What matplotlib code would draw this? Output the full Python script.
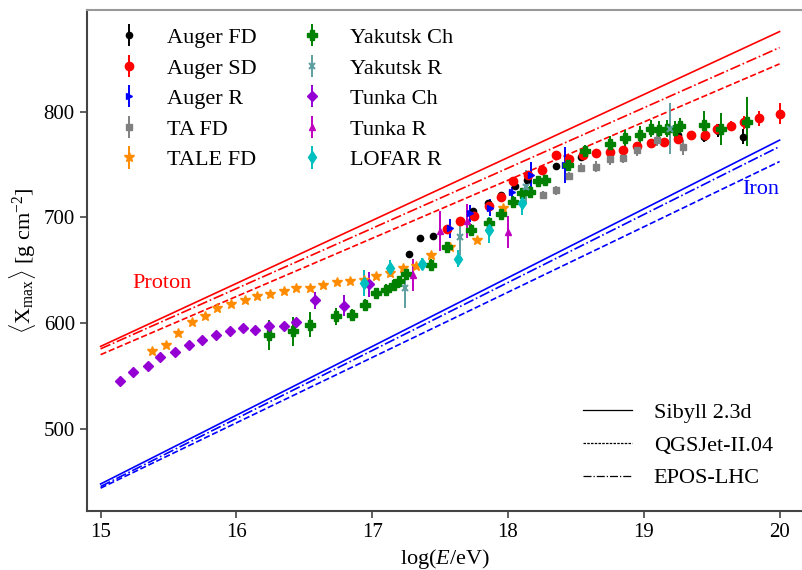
import matplotlib.pyplot as plt
from matplotlib.lines import Line2D

plt.rcParams['font.family'] = ['Liberation Serif', 'DejaVu Serif']
plt.rcParams['mathtext.fontset'] = 'custom'
plt.rcParams['mathtext.rm'] = 'Liberation Serif'
plt.rcParams['mathtext.it'] = 'Liberation Serif:italic'

# model predictions, endpoints at lg E = 15 and 20
model_lgE = [15.0, 20.0]
proton_sibyll = [578.3, 875.5]
proton_epos = [576.0, 860.4]
proton_qgsjet = [570.5, 845.0]
iron_sibyll = [448.4, 773.0]
iron_epos = [446.0, 767.0]
iron_qgsjet = [444.5, 752.8]

# measurements
auger_fd_x = [17.27, 17.35, 17.45, 17.74, 17.85, 17.95, 18.05, 18.14, 18.35, 18.54,
              19.25, 19.44, 19.55, 19.73]
auger_fd_y = [665.8, 680.6, 682.7, 705.7, 713.6, 721.4, 729.9, 735.6, 748.8, 757.0,
              778.0, 776.4, 782.0, 776.4]
auger_fd_e = [2, 2, 2, 2, 2, 2, 2, 2, 2, 3, 4, 5, 6, 7]

auger_sd_x = [17.55, 17.65, 17.75, 17.86, 17.95, 18.04, 18.15, 18.25, 18.35, 18.45,
              18.55, 18.65, 18.75, 18.85, 18.95, 19.05, 19.15, 19.25, 19.35, 19.45,
              19.54, 19.64, 19.74, 19.85, 20.0]
auger_sd_y = [689.0, 696.5, 701.6, 710.4, 719.8, 734.0, 740.0, 745.0, 759.0, 755.0,
              759.0, 760.7, 762.0, 764.0, 767.6, 770.0, 771.7, 774.0, 778.0, 778.0,
              783.4, 786.5, 790.0, 793.8, 797.8]
auger_sd_e = [3, 3, 3, 3, 3, 3, 3, 3, 3, 3, 3, 3, 3, 3, 3, 3, 3, 3, 4, 4,
              5, 5, 6, 7, 10]

auger_r_x = [17.57, 17.72, 17.87, 18.03, 18.17, 18.42]
auger_r_y = [690.0, 704.0, 709.0, 724.0, 740.0, 750.0]
auger_r_e = [9, 8, 8, 5, 12, 17]

ta_fd_x = [18.26, 18.35, 18.45, 18.54, 18.65, 18.75, 18.85, 18.95, 19.1, 19.29]
ta_fd_y = [721.0, 725.5, 739.3, 747.0, 748.0, 755.0, 756.0, 764.0, 773.3, 766.4]
ta_fd_e = [4, 4, 4, 4, 5, 5, 5, 6, 6, 7]

tale_fd_x = [15.38, 15.48, 15.57, 15.67, 15.77, 15.86, 15.96, 16.06, 16.15, 16.25,
             16.35, 16.44, 16.54, 16.64, 16.74, 16.84, 16.94, 17.03, 17.13, 17.23,
             17.32, 17.43, 17.57, 17.77, 17.96]
tale_fd_y = [573.6, 580.0, 591.0, 601.0, 607.0, 614.5, 618.6, 622.0, 625.5, 627.7,
             631.0, 633.4, 633.4, 636.5, 638.7, 640.0, 641.0, 645.0, 648.0, 652.0,
             654.0, 664.8, 672.0, 679.0, 709.0]
tale_fd_e = [1] * 25

yak_ch_x = [16.24, 16.42, 16.54, 16.73, 16.85, 16.95, 17.03, 17.1, 17.16, 17.2,
            17.25, 17.43, 17.55, 17.73, 17.86, 17.95, 18.04, 18.1, 18.16, 18.22,
            18.27, 18.44, 18.57, 18.75, 18.86, 18.97, 19.05, 19.11, 19.17, 19.23,
            19.27, 19.44, 19.57, 19.76]
yak_ch_y = [589.0, 592.5, 598.8, 606.6, 608.0, 617.6, 628.7, 631.8, 636.5, 639.6,
            647.0, 655.4, 672.0, 688.4, 695.0, 703.5, 715.0, 723.0, 724.5, 734.0,
            735.0, 749.5, 762.3, 769.5, 775.0, 778.0, 784.0, 782.7, 784.0, 782.7,
            786.0, 787.5, 783.4, 790.6]
yak_ch_e = [14, 14, 12, 8, 6, 5, 5, 5, 5, 5,
            5, 5, 5, 5, 5, 5, 5, 5, 5, 5,
            5, 6, 6, 7, 8, 8, 8, 8, 8, 8,
            8, 13, 15, 23]

yak_r_x = [17.24, 17.65, 18.13, 19.19]
yak_r_y = [633.0, 681.5, 729.0, 784.0]
yak_r_e = [18, 17, 16, 24]

tunka_ch_x = [15.14, 15.24, 15.35, 15.44, 15.55, 15.65, 15.75, 15.85, 15.95, 16.05,
              16.14, 16.24, 16.35, 16.44, 16.58, 16.79, 16.98]
tunka_ch_y = [546.0, 553.8, 560.0, 568.0, 572.7, 580.0, 584.6, 589.0, 592.5, 596.0,
              594.0, 598.0, 598.0, 601.0, 622.0, 616.7, 637.0]
tunka_ch_e = [1, 1, 1, 1, 1, 1, 1, 1, 1, 1, 1, 1, 1, 3, 8, 10, 12]

tunka_r_x = [17.3, 17.5, 17.7, 18.0]
tunka_r_y = [646.0, 687.0, 697.0, 686.0]
tunka_r_e = [15, 19, 16, 15]

lofar_x = [16.94, 17.13, 17.37, 17.63, 17.86, 18.1]
lofar_y = [638.0, 652.0, 656.0, 661.0, 688.0, 714.0]
lofar_e = [12, 8, 6, 8, 12, 12]

fig = plt.figure(figsize=(8.02, 5.70), dpi=100)
ax = fig.add_axes([0.108, 0.1035, 0.894, 0.879])

# model lines
for y, ls in [(proton_sibyll, '-'), (proton_epos, '-.'), (proton_qgsjet, '--')]:
    ax.plot(model_lgE, y, color='red', ls=ls, lw=1.2)
for y, ls in [(iron_sibyll, '-'), (iron_epos, '-.'), (iron_qgsjet, '--')]:
    ax.plot(model_lgE, y, color='blue', ls=ls, lw=1.2)

datasets = [
    ('Auger FD', auger_fd_x, auger_fd_y, auger_fd_e, 'black', 'o', 4.5),
    ('Auger SD', auger_sd_x, auger_sd_y, auger_sd_e, 'red', 'o', 6),
    ('Auger R', auger_r_x, auger_r_y, auger_r_e, 'blue', '>', 5),
    ('TA FD', ta_fd_x, ta_fd_y, ta_fd_e, 'gray', 's', 5),
    ('TALE FD', tale_fd_x, tale_fd_y, tale_fd_e, 'darkorange', '*', 7),
    ('Yakutsk Ch', yak_ch_x, yak_ch_y, yak_ch_e, 'green', 'P', 6.5),
    ('Yakutsk R', yak_r_x, yak_r_y, yak_r_e, 'cadetblue', 'x', 5),
    ('Tunka Ch', tunka_ch_x, tunka_ch_y, tunka_ch_e, 'darkviolet', 'D', 5),
    ('Tunka R', tunka_r_x, tunka_r_y, tunka_r_e, 'm', '^', 5),
    ('LOFAR R', lofar_x, lofar_y, lofar_e, 'c', 'd', 6),
]

for name, x, y, e, c, m, ms in datasets:
    ax.errorbar(x, y, yerr=e, fmt=m, color=c, ms=ms, elinewidth=1.4,
                mew=1.5 if m == 'x' else 1, capsize=0, label=name)

leg1 = ax.legend(loc='upper left', ncol=2, frameon=False, fontsize=16,
                 bbox_to_anchor=(0.0, 1.005), columnspacing=1.5, handletextpad=0.7,
                 labelspacing=0.45, handlelength=2.0)
ax.add_artist(leg1)

model_handles = [Line2D([], [], color='black', lw=0.9, ls='-'),
                 Line2D([], [], color='black', lw=0.9, ls=(0, (2, 1))),
                 Line2D([], [], color='black', lw=0.9, ls='-.')]
ax.legend(model_handles, ['Sibyll 2.3d', 'QGSJet-II.04', 'EPOS-LHC'],
          loc='lower right', frameon=False, fontsize=16, handlelength=2.2,
          handletextpad=1.0, labelspacing=0.55, bbox_to_anchor=(0.985, 0.005))

ax.text(15.45, 638, 'Proton', color='red', fontsize=16, ha='center', va='center')
ax.text(19.86, 726, 'Iron', color='blue', fontsize=16, ha='center', va='center')

ax.set_xlim(14.897, 20.177)
ax.set_ylim(422.9, 895.9)
ax.set_xticks([15, 16, 17, 18, 19, 20])
ax.set_yticks([500, 600, 700, 800])
ax.tick_params(labelsize=15, length=5, width=1.2, color='#444444')
for s in ['top', 'right']:
    ax.spines[s].set_color('#999999')
for s in ['left', 'bottom']:
    ax.spines[s].set_color('#444444')
for s in ax.spines.values():
    s.set_linewidth(1.5)

ax.set_xlabel(r'log($E$/eV)', fontsize=16)
ax.set_ylabel(r'$\langle\mathrm{X}_{\mathrm{max}}\rangle$ [g cm$^{-2}$]', fontsize=16)

fig.savefig('out.png', dpi=100)
